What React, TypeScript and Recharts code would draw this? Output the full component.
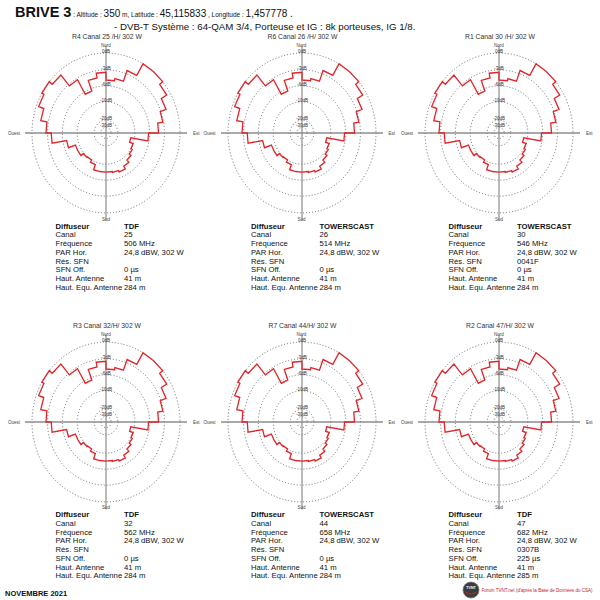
import React from 'react'
import { RadarChart, Radar, PolarGrid, PolarAngleAxis, PolarRadiusAxis } from 'recharts'

const FONT = '"Liberation Sans", Arial, Helvetica, sans-serif'

// attenuation par secteur de 10° (0 = Nord, sens horaire), en dB
const pattern = [
  -4.9, -4.5, -2.4, 0, 0, -0.75, -1.95, -3.15, -4.2,
  -6.3, -12.2, -10, -9.6, -9, -8.2, -7.4, -7.8, -8,
  -8, -8, -9.4, -10, -9.8, -9, -9, -7, -3.75,
  -2.7, -1.5, -0.45, 0, -0.75, -3.3, -6.6, -4.35, -3.45,
]

const ringDb = [0, -3, -6, -10, -20, -30]
const ringFrac = [1, 0.79, 0.59, 0.39, 0.16, 0.07]
const ringLabels = ['0dB', '-3dB', '-6dB', '-10dB', '-20dB', '-30dB']

const titles = [
  'R4   Canal 25 /H/  302 W',
  'R6  Canal 26 /H/  302 W',
  'R1  Canal 30 /H/  302 W',
  'R3   Canal 32/H/  302 W',
  'R7  Canal 44/H/  302 W',
  'R2  Canal 47/H/  302 W',
]
const rowLabels = ['Diffuseur', 'Canal', 'Fréquence', 'PAR Hor.', 'Rés. SFN', 'SFN Off.', 'Haut. Antenne', 'Haut. Equ. Antenne']
const diffuseurs = ['TDF', 'TOWERSCAST', 'TOWERSCAST', 'TDF', 'TOWERSCAST', 'TDF']
const canaux = ['25', '26', '30', '32', '44', '47']
const frequences = ['506 MHz', '514 MHz', '546 MHz', '562 MHz', '658 MHz', '682 MHz']
const parHor = ['24,8 dBW, 302 W', '24,8 dBW, 302 W', '24,8 dBW, 302 W', '24,8 dBW, 302 W', '24,8 dBW, 302 W', '24,8 dBW, 302 W']
const resSfn = ['', '', '0041F', '', '', '0307B']
const sfnOff = ['0 µs', '0 µs', '0 µs', '0 µs', '0 µs', '225 µs']
const hautAnt = ['41 m', '41 m', '41 m', '41 m', '41 m', '41 m']
const hautEqu = ['284 m', '284 m', '284 m', '284 m', '284 m', '285 m']

const centersX = [106, 301.5, 499]
const centersY = [133.3, 421.7]

const R0 = 74 // rayon du cercle 0dB
const OUTER = 81 // longueur des axes

function dbToFrac(db: number) {
  if (db >= 0) return 1
  for (let i = 0; i < ringDb.length - 1; i++) {
    const a = ringDb[i]
    const b = ringDb[i + 1]
    if (db <= a && db >= b) {
      const t = (a - db) / (a - b)
      return ringFrac[i] + (ringFrac[i + 1] - ringFrac[i]) * t
    }
  }
  return ringFrac[ringFrac.length - 1]
}

// secteurs en escalier : deux points par secteur
const points = pattern.flatMap((db, k) => [
  { bearing: k * 10, r: dbToFrac(db) },
  { bearing: k * 10 + 10, r: dbToFrac(db) },
])

function PolarPattern({ cx, cy }: { cx: number; cy: number }) {
  return (
    <div
      style={{
        position: 'absolute',
        left: cx - 95,
        top: cy - 95,
        width: 190,
        height: 190,
        transform: 'scaleY(1.08)',
      }}
    >
      <RadarChart width={190} height={190} data={points} outerRadius={OUTER} margin={{ top: 0, right: 0, bottom: 0, left: 0 }}>
        <PolarGrid
          gridType="circle"
          radialLines={false}
          polarRadius={ringFrac.map((f) => f * R0)}
          stroke="#555"
          strokeWidth={0.8}
          strokeDasharray="1 2"
        />
        <PolarGrid gridType="circle" polarAngles={[0, 90, 180, 270]} polarRadius={[0]} stroke="#8c8c8c" strokeWidth={1.2} />
        <PolarAngleAxis dataKey="bearing" type="number" domain={[0, 360]} tick={false} axisLine={false} tickLine={false} />
        <PolarRadiusAxis
          angle={90}
          type="number"
          domain={[0, OUTER / R0]}
          ticks={ringFrac}
          tickFormatter={(v: number) => ringLabels[ringFrac.indexOf(v)] ?? ''}
          orientation="middle"
          axisLine={false}
          tick={{ fontSize: 4.5, fill: '#333', fontFamily: FONT }}
        />
        <Radar dataKey="r" stroke="#e0262b" strokeWidth={1.3} fill="none" fillOpacity={0} dot={false} isAnimationActive={false} />
      </RadarChart>
    </div>
  )
}

export default function App() {
  const cells = [0, 1, 2, 3, 4, 5].map((i) => ({
    i,
    cx: centersX[i % 3],
    cy: centersY[Math.floor(i / 3)],
  }))

  return (
    <div style={{ position: 'fixed', left: 0, top: 0, width: 600, height: 600, background: '#fff', overflow: 'hidden' }}>
      {cells.map((c) => (
        <PolarPattern key={c.i} cx={c.cx} cy={c.cy} />
      ))}

      <svg width={600} height={600} style={{ position: 'absolute', left: 0, top: 0, whiteSpace: 'pre' }} fontFamily={FONT}>
        {/* en-tête */}
        <text x={15} y={17.3} fill="#111">
          <tspan fontSize={14.5} fontWeight="bold">BRIVE 3</tspan>
          <tspan fontSize={6.5}>{' : Altitude : '}</tspan>
          <tspan fontSize={10}>350</tspan>
          <tspan fontSize={6.5}>{' m, Latitude : '}</tspan>
          <tspan fontSize={10}>45,115833</tspan>
          <tspan fontSize={6.5}>{' , Longitude : '}</tspan>
          <tspan fontSize={10}>1,457778 .</tspan>
        </text>
        <text x={114} y={30.2} fontSize={9.7} fill="#111">
          {'- DVB-T  Système : 64-QAM 3/4,  Porteuse et IG : 8k porteuses, IG 1/8.'}
        </text>

        {cells.map(({ i, cx, cy }) => {
          const values = [diffuseurs[i], canaux[i], frequences[i], parHor[i], resSfn[i], sfnOff[i], hautAnt[i], hautEqu[i]]
          return (
            <g key={i}>
              <text x={cx + 1} y={cy - 94} fontSize={6.8} fill="#333" textAnchor="middle">
                {titles[i]}
              </text>
              <text x={cx} y={cy - 86} fontSize={4.5} fill="#444" textAnchor="middle">Nord</text>
              <text x={cx} y={cy + 87.3} fontSize={4.5} fill="#444" textAnchor="middle">Sud</text>
              <text x={cx - 86} y={cy + 2} fontSize={4.5} fill="#444" textAnchor="end">Ouest</text>
              <text x={cx + 87} y={cy + 2} fontSize={4.5} fill="#444">Est</text>
              {rowLabels.map((lab, j) => (
                <g key={lab}>
                  <text x={cx - 50.5} y={cy + 95.3 + j * 8.75} fontSize={7.7} fill="#111" fontWeight={j === 0 ? 'bold' : 'normal'}>
                    {lab}
                  </text>
                  <text x={cx + 18} y={cy + 95.3 + j * 8.75} fontSize={7.7} fill="#111" fontWeight={j === 0 ? 'bold' : 'normal'}>
                    {values[j]}
                  </text>
                </g>
              ))}
            </g>
          )
        })}

        {/* pied de page */}
        <text x={5} y={596} fontSize={7.5} fontWeight="bold" fill="#111">NOVEMBRE 2021</text>
        <circle cx={471} cy={590} r={8} fill="#3b3b3b" stroke="#777" strokeWidth={0.8} />
        <text x={471} y={589} fontSize={3.6} fontWeight="bold" fill="#fff" textAnchor="middle">TVNT</text>
        <path d="M465.5,592 Q471,596 476.5,592" stroke="#d22" strokeWidth={1} fill="none" />
        <text x={481.5} y={592} fontSize={4.8} textLength={111} lengthAdjust="spacingAndGlyphs" fill="#c42323">
          {"Forum TVNT.net (d'après la Base de Données du CSA)"}
        </text>
      </svg>
    </div>
  )
}
